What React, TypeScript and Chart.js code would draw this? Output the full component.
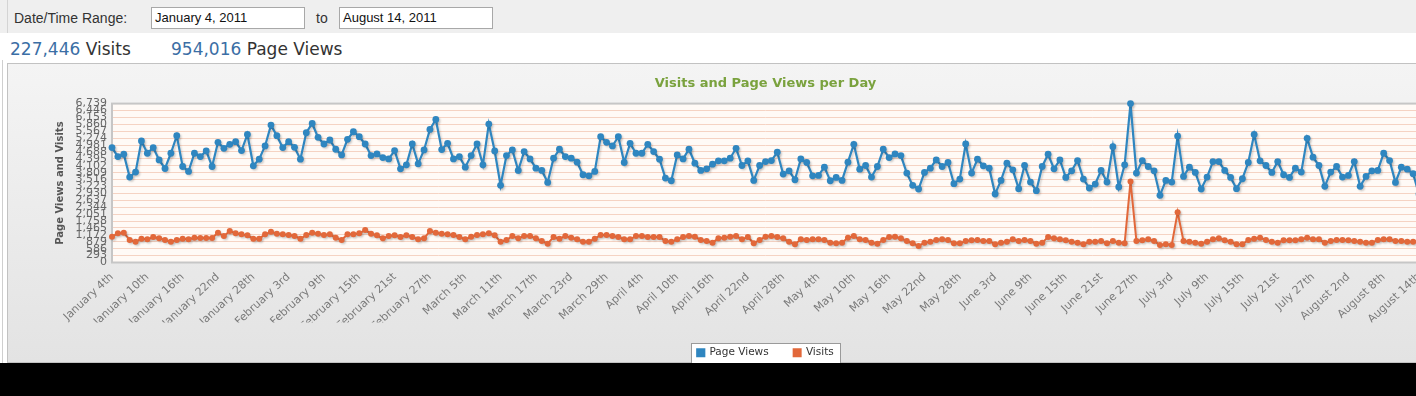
import React, { useEffect, useRef } from 'react';
import { Chart, registerables } from 'chart.js';

Chart.register(...registerables);

// ---------- data ----------
const MONTHS = ['January', 'February', 'March', 'April', 'May', 'June', 'July', 'August'];
const DAY_COUNT = 223; // January 4, 2011 .. August 14, 2011
const TICK_EVERY = 6;
const Y_MAX = 6739;
const Y_STEP = 293;

function ordinal(n: number): string {
  const t = n % 100;
  if (t >= 11 && t <= 13) return n + 'th';
  const r = n % 10;
  return n + (r === 1 ? 'st' : r === 2 ? 'nd' : r === 3 ? 'rd' : 'th');
}

const categories: string[] = Array.from({ length: DAY_COUNT }, (_, i) => {
  const d = new Date(2011, 0, 4 + i);
  return `${MONTHS[d.getMonth()]} ${ordinal(d.getDate())}`;
});

const pageViews: number[] = [
  4872, 4493, 4591, 3622, 3833, 5153, 4633, 4872, 4352, 3987,
  4633, 5377, 4072, 3861, 4633, 4493, 4731, 4072, 5097, 4844,
  5012, 5125, 4746, 5433, 4100, 4380, 4942, 5827, 5377, 4872,
  5125, 4886, 4380, 5504, 5897, 5307, 5026, 5195, 4802, 4563,
  5223, 5546, 5335, 5026, 4535, 4605, 4451, 4394, 4746, 3973,
  4142, 5026, 4184, 4774, 5644, 6065, 4790, 5054, 4394, 4493,
  4044, 4535, 5026, 4142, 5869, 4731, 3271, 4535, 4774, 3903,
  4703, 4394, 4001, 3903, 3398, 4423, 4802, 4493, 4423, 4254,
  3721, 3678, 3861, 5335, 5097, 4942, 5335, 4240, 5054, 4633,
  4633, 5012, 4703, 4380, 3580, 3468, 4563, 4394, 4802, 4212,
  3903, 3973, 4170, 4310, 4310, 4423, 4844, 4114, 4310, 3482,
  4114, 4282, 4324, 4675, 3749, 3889, 3510, 4394, 4240, 3678,
  3692, 4044, 3468, 3608, 3482, 4254, 5012, 3959, 4114, 3622,
  4072, 4802, 4451, 4605, 4535, 3791, 3271, 3117, 3819, 4001,
  4352, 4072, 4240, 3341, 3538, 5026, 3791, 4380, 4100, 4001,
  2906, 3482, 4212, 3931, 3131, 4114, 3412, 3047, 4072, 4591,
  3973, 4352, 3608, 3889, 4324, 3538, 3159, 3327, 3903, 3412,
  4914, 3201, 4142, 6739, 3791, 4324, 4072, 3889, 2850, 3482,
  3412, 5363, 3650, 4044, 3819, 3117, 3622, 4282, 4282, 3903,
  3608, 3131, 3552, 4240, 5433, 4310, 4114, 3819, 4282, 3721,
  3608, 4001, 3833, 5265, 4465, 4114, 3229, 3833, 4072, 3622,
  3692, 4282, 3229, 3650, 3889, 3903, 4633, 4324, 3398, 4044,
  3959, 3763, 2900,
];

const visits: number[] = [
  1095, 1236, 1264, 955, 885, 1011, 983, 1081, 1025, 955,
  885, 955, 1011, 983, 1053, 1039, 1039, 1039, 1264, 1123,
  1334, 1236, 1193, 1151, 1011, 1011, 1193, 1306, 1221, 1193,
  1165, 1123, 1011, 1165, 1264, 1221, 1165, 1193, 1053, 955,
  1193, 1193, 1236, 1376, 1221, 1151, 1025, 1123, 1151, 1081,
  1151, 1081, 983, 1025, 1334, 1264, 1221, 1193, 1165, 1081,
  983, 1095, 1165, 1193, 1236, 1151, 885, 955, 1123, 1025,
  1123, 1123, 1025, 913, 800, 1081, 1011, 1123, 1053, 983,
  885, 885, 1011, 1165, 1165, 1123, 1081, 983, 983, 1123,
  1123, 1081, 1081, 1081, 913, 885, 983, 1081, 1123, 1095,
  955, 913, 842, 1025, 1053, 1095, 1123, 983, 1081, 814,
  955, 1095, 1123, 1081, 1025, 880, 772, 983, 955, 983,
  983, 955, 842, 814, 842, 1053, 1123, 983, 955, 842,
  800, 955, 1081, 1095, 1025, 913, 814, 702, 842, 885,
  955, 983, 955, 814, 814, 913, 941, 955, 913, 913,
  772, 842, 885, 983, 913, 955, 913, 800, 842, 1081,
  1025, 983, 941, 885, 842, 772, 885, 885, 913, 814,
  913, 842, 814, 3440, 913, 941, 983, 913, 744, 772,
  744, 2130, 913, 885, 842, 800, 885, 983, 1025, 941,
  885, 772, 772, 955, 1011, 1053, 955, 885, 842, 941,
  941, 941, 983, 1053, 983, 983, 842, 913, 955, 955,
  941, 913, 885, 842, 842, 955, 983, 983, 913, 913,
  885, 885, 900,
];

const SERIES_NAMES = ['Page Views', 'Visits'];
const TITLE = 'Visits and Page Views per Day';
const Y_TITLE = 'Page Views and Visits';

const BLUE = '#2f86c0';
const ORANGE = '#e2683a';
const VERDANA = '"DejaVu Sans", Verdana, sans-serif';

export default function App() {
  const ref = useRef<HTMLCanvasElement>(null);

  useEffect(() => {
    if (!ref.current) return;

    const plotDecor = {
      id: 'plotDecor',
      beforeDraw(chart: any) {
        const { ctx, chartArea: a } = chart;
        ctx.save();
        ctx.fillStyle = '#fffaf6';
        ctx.fillRect(a.left, a.top, a.right - a.left, a.bottom - a.top);
        const lg = chart.legend;
        if (lg && lg.legendHitBoxes && lg.legendHitBoxes.length) {
          const hb = lg.legendHitBoxes;
          const first = hb[0];
          const last = hb[hb.length - 1];
          const x0 = Math.round(first.left - 6) + 0.5;
          const x1 = Math.round(last.left + last.width + 6) + 0.5;
          const y0 = Math.round(first.top - 5) + 0.5;
          const y1 = chart.height + 5;
          ctx.fillStyle = '#ffffff';
          ctx.fillRect(x0, y0, x1 - x0, y1 - y0);
          ctx.strokeStyle = '#9a9a9a';
          ctx.lineWidth = 1;
          ctx.strokeRect(x0, y0, x1 - x0, y1 - y0);
        }
        ctx.restore();
      },
      beforeDatasetsDraw(chart: any) {
        const { ctx, chartArea: a } = chart;
        ctx.save();
        ctx.strokeStyle = '#c6c6c6';
        ctx.lineWidth = 2;
        ctx.strokeRect(a.left, a.top, a.right - a.left, a.bottom - a.top);
        ctx.restore();
      },
      beforeDatasetDraw(chart: any) {
        const ctx = chart.ctx;
        ctx.save();
        ctx.shadowColor = 'rgba(0,0,0,0.16)';
        ctx.shadowOffsetX = 1.5;
        ctx.shadowOffsetY = 1.5;
        ctx.shadowBlur = 2;
      },
      afterDatasetDraw(chart: any) {
        chart.ctx.restore();
      },
    };

    const chart = new Chart(ref.current, {
      type: 'line',
      data: {
        labels: categories,
        datasets: [
          {
            label: SERIES_NAMES[0],
            data: pageViews,
            borderColor: BLUE,
            backgroundColor: BLUE,
            borderWidth: 2.2,
            pointRadius: 3.4,
            pointBackgroundColor: BLUE,
            pointBorderWidth: 0,
            tension: 0,
            clip: false as any,
          },
          {
            label: SERIES_NAMES[1],
            data: visits,
            borderColor: ORANGE,
            backgroundColor: ORANGE,
            borderWidth: 2,
            pointRadius: 3,
            pointBackgroundColor: ORANGE,
            pointBorderWidth: 0,
            tension: 0,
            clip: false as any,
          },
        ],
      },
      options: {
        animation: false,
        responsive: false,
        events: [],
        layout: { padding: { left: 0, right: 18, top: 0, bottom: 0 } },
        plugins: {
          title: {
            display: true,
            text: TITLE,
            color: '#7aa23e',
            fullSize: false,
            font: { family: VERDANA, size: 13, weight: 'bold' },
            padding: { top: 13, bottom: 12 },
          },
          legend: {
            position: 'bottom',
            fullSize: false,
            labels: {
              boxWidth: 7,
              boxHeight: 7,
              padding: 25,
              color: '#333333',
              font: { family: VERDANA, size: 10.5 },
            },
          },
          tooltip: { enabled: false },
        },
        scales: {
          x: {
            type: 'category',
            grid: { display: false, drawTicks: false },
            border: { display: false },
            ticks: {
              autoSkip: false,
              minRotation: 43,
              maxRotation: 43,
              padding: 8,
              color: '#7a7a7a',
              font: { family: VERDANA, size: 11 },
              callback: (_v: any, i: number) => (i % TICK_EVERY === 0 ? categories[i] : null),
            },
            afterFit: (s: any) => {
              s.height = 60;
            },
          },
          y: {
            min: 0,
            max: Y_MAX,
            ticks: {
              stepSize: Y_STEP,
              autoSkip: false,
              padding: 5,
              color: '#666666',
              font: { family: VERDANA, size: 11 },
            },
            grid: { color: '#f5d3c3', drawTicks: false, lineWidth: 1 },
            border: { display: false },
            title: {
              display: true,
              text: Y_TITLE,
              color: '#555555',
              font: { family: VERDANA, size: 10, weight: 'bold' },
              padding: { top: 47, bottom: 0 },
            },
            afterFit: (s: any) => {
              s.width = 105;
            },
          },
        },
      } as any,
      plugins: [plotDecor],
    });

    return () => chart.destroy();
  }, []);

  const abs = (o: React.CSSProperties): React.CSSProperties => ({ position: 'absolute', ...o });
  const inputBox: React.CSSProperties = {
    top: 7,
    width: 154,
    height: 22,
    boxSizing: 'border-box',
    border: '1px solid #a8a8a8',
    background: '#ffffff',
    fontSize: 13,
    lineHeight: '20px',
    paddingLeft: 3,
    color: '#111111',
    fontFamily: '"Liberation Sans", Arial, sans-serif',
    whiteSpace: 'nowrap',
  };

  return (
    <div
      style={{
        position: 'fixed',
        left: 0,
        top: 0,
        width: 1416,
        height: 396,
        overflow: 'hidden',
        background: '#ffffff',
        fontFamily: '"Liberation Sans", Arial, sans-serif',
      }}
    >
      <div style={abs({ left: 0, top: 0, width: 1416, height: 33, background: '#efefef' })} />
      <div style={abs({ left: 7, top: 0, width: 1, height: 33, background: '#d4d4d4' })} />
      <div style={abs({ left: 14, top: 9, fontSize: 14, lineHeight: '18px', color: '#333333', whiteSpace: 'nowrap' })}>
        Date/Time Range:
      </div>
      <div style={abs({ ...inputBox, left: 151 })}>January 4, 2011</div>
      <div style={abs({ left: 316, top: 9, fontSize: 14, lineHeight: '18px', color: '#333333' })}>to</div>
      <div style={abs({ ...inputBox, left: 339 })}>August 14, 2011</div>

      <div style={abs({ left: 10, top: 38, fontSize: 17, lineHeight: '22px', fontFamily: VERDANA, whiteSpace: 'nowrap' })}>
        <span style={{ color: '#3b6ea5' }}>227,446</span>
        <span style={{ color: '#333333' }}> Visits</span>
      </div>
      <div style={abs({ left: 171, top: 38, fontSize: 17, lineHeight: '22px', fontFamily: VERDANA, whiteSpace: 'nowrap' })}>
        <span style={{ color: '#3b6ea5' }}>954,016</span>
        <span style={{ color: '#333333' }}> Page Views</span>
      </div>

      <div style={abs({ left: 2, top: 60, width: 1, height: 303, background: '#cfcfcf' })} />
      <div
        style={abs({
          left: 7,
          top: 63,
          width: 1430,
          height: 300,
          boxSizing: 'border-box',
          border: '1px solid #c2c2c2',
          background: 'linear-gradient(#f4f4f4, #e3e3e3)',
        })}
      />
      <div style={abs({ left: 7, top: 63, width: 1430, height: 305 })}>
        <canvas ref={ref} width={1430} height={305} style={{ display: 'block', width: 1430, height: 305 }} />
      </div>
      <div style={abs({ left: 0, top: 363, width: 1416, height: 33, background: '#000000' })} />
    </div>
  );
}
